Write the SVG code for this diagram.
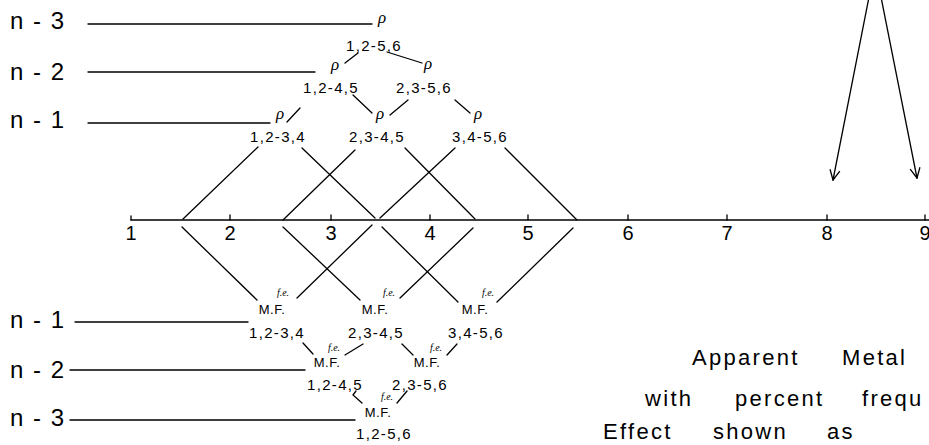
<svg xmlns="http://www.w3.org/2000/svg" width="929" height="445" viewBox="0 0 929 445">
<style>
.ln{stroke:#000;stroke-width:1.3;fill:none;stroke-linecap:round}
.lvl{font-family:"Liberation Sans",Arial,sans-serif;font-size:24px;fill:#000;letter-spacing:1px;word-spacing:1px}
.lab{font-family:"Liberation Sans",Arial,sans-serif;font-size:15px;fill:#000;text-anchor:middle;letter-spacing:1.3px}
.rho{font-family:"Liberation Serif",serif;font-style:italic;font-size:17px;fill:#000;text-anchor:middle}
.mf{font-family:"Liberation Sans",Arial,sans-serif;font-size:13px;fill:#000;text-anchor:middle;letter-spacing:0.5px}
.fe{font-family:"Liberation Serif",serif;font-style:italic;font-size:10px;fill:#000;text-anchor:middle}
.num{font-family:"Liberation Sans",Arial,sans-serif;font-size:20px;fill:#000;text-anchor:middle}
.cap{font-family:"Liberation Sans",Arial,sans-serif;font-size:22px;fill:#000;letter-spacing:2.3px}
</style>
<defs>
<marker id="ah" viewBox="0 0 12 12" refX="11" refY="6" markerWidth="12" markerHeight="12" markerUnits="userSpaceOnUse" orient="auto">
<path d="M1,1 L11,6 L1,11" fill="none" stroke="#000" stroke-width="1.3"/>
</marker>
</defs>
<g id="connectors">
<line class="ln" x1="88" y1="24" x2="372" y2="24"/>
<line class="ln" x1="88" y1="72" x2="315" y2="72"/>
<line class="ln" x1="88" y1="123" x2="270" y2="123"/>
<line class="ln" x1="345" y1="63" x2="358" y2="53"/>
<line class="ln" x1="387" y1="52" x2="422" y2="63"/>
<line class="ln" x1="287" y1="122" x2="300" y2="108"/>
<line class="ln" x1="353" y1="95" x2="372" y2="113"/>
<line class="ln" x1="390" y1="115" x2="408" y2="100"/>
<line class="ln" x1="455" y1="100" x2="470" y2="113"/>
<line class="ln" x1="258" y1="147" x2="183" y2="219"/>
<line class="ln" x1="302" y1="148" x2="375" y2="218"/>
<line class="ln" x1="355" y1="150" x2="283" y2="220"/>
<line class="ln" x1="405" y1="148" x2="475" y2="219"/>
<line class="ln" x1="455" y1="148" x2="380" y2="218"/>
<line class="ln" x1="505" y1="148" x2="577" y2="220"/>
<line class="ln" x1="131" y1="220" x2="929" y2="220"/>
<path class="ln" d="M131,216 V220 M230,215 V220 M331,215 V220 M430,215 V220 M528,215 V220 M628,215 V220 M727,215 V220 M827,215 V220 M925,215 V220"/>
<line class="ln" x1="182" y1="227" x2="257" y2="300"/>
<line class="ln" x1="283" y1="227" x2="360" y2="300"/>
<line class="ln" x1="372" y1="225" x2="297" y2="298"/>
<line class="ln" x1="382" y1="227" x2="458" y2="302"/>
<line class="ln" x1="473" y1="228" x2="400" y2="298"/>
<line class="ln" x1="573" y1="228" x2="497" y2="302"/>
<line class="ln" x1="303" y1="343" x2="313" y2="354"/>
<line class="ln" x1="345" y1="355" x2="363" y2="344"/>
<line class="ln" x1="402" y1="344" x2="413" y2="355"/>
<line class="ln" x1="447" y1="355" x2="457" y2="344"/>
<path class="ln" d="M356,391 L353,395 L362,403"/>
<line class="ln" x1="397" y1="403" x2="407" y2="391"/>
<line class="ln" x1="75" y1="322" x2="248" y2="322"/>
<line class="ln" x1="70" y1="370" x2="305" y2="370"/>
<line class="ln" x1="70" y1="420" x2="355" y2="420"/>
<line class="ln" x1="870" y1="-8" x2="833" y2="180" marker-end="url(#ah)"/>
<line class="ln" x1="880" y1="-8" x2="917" y2="178" marker-end="url(#ah)"/>
</g>
<g id="levels-top">
<text class="lvl" x="10" y="29">n - 3</text>
<text class="lvl" x="10" y="80">n - 2</text>
<text class="lvl" x="10" y="128">n - 1</text>
</g>
<g id="rho-top">
<text class="rho" x="382" y="23">ρ</text>
<g id="n2"><text class="rho" x="335" y="70">ρ</text><text class="rho" x="428" y="69">ρ</text></g>
<g id="n1"><text class="rho" x="280" y="119">ρ</text><text class="rho" x="380" y="119">ρ</text><text class="rho" x="478" y="119">ρ</text></g>
</g>
<g id="labels-top">
<text class="lab" x="374" y="51">1,2-5,6</text>
<text class="lab" x="331" y="93">1,2-4,5</text>
<text class="lab" x="424" y="93">2,3-5,6</text>
<text class="lab" x="278" y="142">1,2-3,4</text>
<text class="lab" x="377" y="142">2,3-4,5</text>
<text class="lab" x="480" y="142">3,4-5,6</text>
</g>
<g id="axis-numbers">
<text class="num" x="131" y="240">1</text>
<text class="num" x="230" y="240">2</text>
<text class="num" x="331" y="240">3</text>
<text class="num" x="430" y="240">4</text>
<text class="num" x="528" y="240">5</text>
<text class="num" x="628" y="240">6</text>
<text class="num" x="727" y="240">7</text>
<text class="num" x="827" y="240">8</text>
<text class="num" x="925" y="240">9</text>
</g>
<g id="levels-bottom">
<text class="lvl" x="10" y="328">n - 1</text>
<text class="lvl" x="10" y="378">n - 2</text>
<text class="lvl" x="10" y="426">n - 3</text>
</g>
<g id="mf-n1">
<text class="mf" x="272" y="314">M.F.</text><text class="fe" x="283" y="296">f.e.</text>
<text class="mf" x="375" y="314">M.F.</text><text class="fe" x="389" y="296">f.e.</text>
<text class="mf" x="475" y="314">M.F.</text><text class="fe" x="488" y="296">f.e.</text>
<text class="lab" x="277" y="338">1,2-3,4</text>
<text class="lab" x="376" y="338">2,3-4,5</text>
<text class="lab" x="476" y="338">3,4-5,6</text>
</g>
<g id="mf-n2">
<text class="mf" x="327" y="367">M.F.</text><text class="fe" x="334" y="351">f.e.</text>
<text class="mf" x="427" y="367">M.F.</text><text class="fe" x="436" y="351">f.e.</text>
<text class="lab" x="335" y="390">1,2-4,5</text>
<text class="lab" x="420" y="390">2,3-5,6</text>
</g>
<g id="mf-n3">
<text class="mf" x="378" y="417">M.F.</text><text class="fe" x="387" y="400">f.e.</text>
<text class="lab" x="384" y="439">1,2-5,6</text>
</g>
<g id="caption">
<text class="cap" x="692" y="365">Apparent</text>
<text class="cap" x="842" y="365">Metal</text>
<text class="cap" x="645" y="406">with</text>
<text class="cap" x="735" y="406">percent</text>
<text class="cap" x="862" y="406">frequ</text>
<text class="cap" x="603" y="439">Effect</text>
<text class="cap" x="713" y="439">shown</text>
<text class="cap" x="827" y="439">as</text>
</g>
</svg>
